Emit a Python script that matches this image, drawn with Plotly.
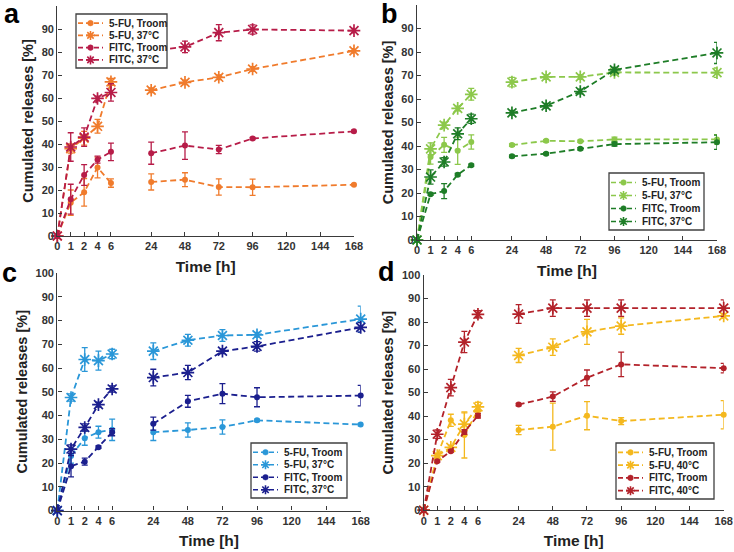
import plotly.graph_objects as go

W, H = 734, 552

# ---------------- data ----------------
times = [0, 1, 2, 4, 6, 24, 48, 72, 96, 168]
tick_hours = [0, 1, 2, 4, 6, 24, 48, 72, 96, 120, 144, 168]
yticks = list(range(0, 101, 10))

# panel a
a_fu_rt = [0, 14.5, 19.0, 29.8, 23.0, 23.5, 24.5, 21.3, 21.2, 22.3]
a_fu_rt_err = [None, 5.5, 6, 4.5, 1.8, 3.5, 3, 3.5, 3.5, 0.4]
a_fu_hot = [0, 38.0, 42.5, 47.7, 67.0, 63.4, 66.8, 69.0, 72.6, 80.5]
a_fu_hot_err = [None, 2, 3, 3, 1.5, 1, 1, 1, 1, 1]
a_fitc_rt = [0, 16.0, 26.5, 33.2, 36.6, 36.0, 39.3, 37.6, 42.4, 45.5]
a_fitc_rt_err = [None, 6.5, 4.5, 1.5, 3.8, 4.8, 6, 1.8, 0.5, 0.5]
a_fitc_hot = [0, 38.7, 43.0, 59.8, 62.4, 80.5, 82.2, 88.4, 89.8, 89.3]
a_fitc_hot_err = [None, 6.2, 4, 1, 3.8, 1, 2.5, 3.5, 2, 1]

# panel b
b_fu_rt = [0, 35.3, 40.5, 38.0, 41.7, 40.4, 42.2, 42.0, 42.8, 42.8]
b_fu_rt_err = [None, 3, 3.2, 5.8, 3, 0.5, 0.5, 0.5, 1, 2]
b_fu_hot = [0, 38.8, 48.9, 56.0, 62.0, 67.2, 69.4, 69.4, 71.3, 71.2]
b_fu_hot_err = [None, 2.5, 1.2, 1, 2.5, 2, 1, 1, 1, 2]
b_fitc_rt = [0, 19.5, 20.8, 27.8, 31.8, 35.6, 36.7, 38.8, 40.8, 41.6]
b_fitc_rt_err = [None, 0.5, 3.2, 0.5, 0.5, 0.5, 0.5, 0.5, 0.8, 3]
b_fitc_hot = [0, 26.8, 33.2, 45.2, 51.6, 54.1, 57.1, 63.2, 72.4, 79.6]
b_fitc_hot_err = [None, 3, 1.8, 2.5, 2, 1, 1, 1, 1, 4.5]

# panel c
c_fu_rt = [0, 23.0, 30.5, 33.0, 34.0, 33.0, 33.9, 35.2, 38.0, 36.2]
c_fu_rt_err = [None, 3, 3, 2.5, 4.5, 3.5, 3, 3, 0.5, 0.5]
c_fu_hot = [0, 47.6, 63.6, 63.1, 65.9, 67.1, 71.7, 73.7, 74.0, 80.6]
c_fu_hot_err = [None, 1.5, 5, 4, 2, 3.5, 2.5, 2.5, 1, 5.5]
c_fitc_rt = [0, 18.7, 20.6, 26.7, 33.0, 36.6, 46.0, 49.2, 47.7, 48.4]
c_fitc_rt_err = [None, 4.5, 1.5, 0.5, 1.5, 2.7, 2.5, 4.2, 4, 4.3]
c_fitc_hot = [0, 25.9, 35.0, 44.6, 51.2, 56.0, 58.1, 67.1, 69.1, 77.1]
c_fitc_hot_err = [None, 1.8, 1.5, 1, 1.3, 3.5, 3, 1, 2, 2]

# panel d
d_fu_rt = [0, 23.2, 38.2, 32.0, 42.5, 34.1, 35.5, 40.2, 37.9, 40.6]
d_fu_rt_err = [None, 1, 2.6, 9.8, 2, 2, 10, 6, 1.5, 6]
d_fu_hot = [0, 23.2, 26.7, 36.6, 43.9, 65.8, 69.3, 75.8, 78.3, 82.6]
d_fu_hot_err = [None, 1, 1, 4.8, 2, 3, 3.5, 5.3, 3.5, 1]
d_fitc_rt = [0, 20.8, 25.1, 33.3, 40.2, 44.9, 48.3, 56.3, 62.0, 60.4]
d_fitc_rt_err = [None, 0.5, 0.5, 1, 1, 0.5, 2, 3.3, 5.2, 2]
d_fitc_hot = [0, 32.3, 52.1, 71.5, 83.3, 83.4, 85.9, 85.9, 85.9, 85.9]
d_fitc_hot_err = [None, 1.8, 3.5, 4.5, 1.5, 4, 3.5, 3.5, 3.5, 3.5]

# ---------------- styling ----------------
FONT = "Liberation Sans, Arial, sans-serif"
AXC = "#3a3a3a"
TXT = "#333333"

# broken time axis: first hours equally spaced, then 24 h steps compressed
EARLY = [0, 1, 2, 4, 6]


def hour_to_pos(t):
    if t in EARLY:
        return EARLY.index(t)
    return 7 + (t - 24) / 24 * 2.52


def with_gap(vals):
    # break the line between 6 h and 24 h
    return list(vals[:5]) + [None] + list(vals[5:])


xpos = with_gap([hour_to_pos(t) for t in times])

panels = [
    dict(letter="a", xpx=(57.3, 354.0), ypx=(6.0, 236.0),
         c_fu="#F07B2C", c_fitc="#B71C48", hot="37°C",
         series=[(a_fu_rt, a_fu_rt_err), (a_fu_hot, a_fu_hot_err),
                 (a_fitc_rt, a_fitc_rt_err), (a_fitc_hot, a_fitc_hot_err)],
         leg=(76, 14, 167, 68), letpos=(12, 14.5)),
    dict(letter="b", xpx=(417.0, 717.0), ypx=(5.0, 240.0),
         c_fu="#8CC84B", c_fitc="#1E7D27", hot="37°C",
         series=[(b_fu_rt, b_fu_rt_err), (b_fu_hot, b_fu_hot_err),
                 (b_fitc_rt, b_fitc_rt_err), (b_fitc_hot, b_fitc_hot_err)],
         leg=(609, 173, 704, 230), letpos=(389, 14.5)),
    dict(letter="c", xpx=(57.3, 360.7), ypx=(273.0, 510.6),
         c_fu="#2A97D8", c_fitc="#1B1F8E", hot="37°C",
         series=[(c_fu_rt, c_fu_rt_err), (c_fu_hot, c_fu_hot_err),
                 (c_fitc_rt, c_fitc_rt_err), (c_fitc_hot, c_fitc_hot_err)],
         leg=(251, 443, 347, 498), letpos=(9, 273)),
    dict(letter="d", xpx=(423.7, 723.7), ypx=(275.0, 510.2),
         c_fu="#F4B81E", c_fitc="#B3222A", hot="40°C",
         series=[(d_fu_rt, d_fu_rt_err), (d_fu_hot, d_fu_hot_err),
                 (d_fitc_rt, d_fitc_rt_err), (d_fitc_hot, d_fitc_hot_err)],
         leg=(616, 443, 714, 499), letpos=(387, 272)),
]


def fx(px):
    return px / W


def fy(py):
    return 1 - py / H


fig = go.Figure()
shapes = []
annotations = []
layout_axes = {}

for i, p in enumerate(panels):
    n = "" if i == 0 else str(i + 1)
    xa, ya = "x" + n, "y" + n
    labels = ["5-FU, Troom", "5-FU, " + p["hot"], "FITC, Troom", "FITC, " + p["hot"]]
    colors = [p["c_fu"], p["c_fu"], p["c_fitc"], p["c_fitc"]]
    hot = [False, True, False, True]
    for (vals, errs), lab, col, h in zip(p["series"], labels, colors, hot):
        marker = (dict(symbol="asterisk-open", size=10.5, color=col,
                       line=dict(color=col, width=1.7)) if h else
                  dict(symbol="circle", size=6, color=col, line=dict(width=0)))
        fig.add_trace(go.Scatter(
            x=xpos, y=with_gap(vals), xaxis=xa, yaxis=ya, name=lab,
            mode="lines+markers", connectgaps=False, cliponaxis=False,
            line=dict(color=col, width=1.8, dash="6px,3.5px"),
            marker=marker,
            error_y=dict(type="data", array=with_gap(errs), visible=True,
                         color=col, thickness=1.3, width=3),
            showlegend=False))

    xd = [fx(p["xpx"][0]), fx(p["xpx"][1])]
    yd = [fy(p["ypx"][1]), fy(p["ypx"][0])]
    common = dict(showgrid=False, zeroline=False, showline=True, linecolor=AXC,
                  linewidth=1.4, ticks="inside", ticklen=4, tickwidth=1.2,
                  tickcolor=AXC, tickfont=dict(family=FONT, size=11, color=TXT,
                                               weight="bold"))
    layout_axes["xaxis" + n] = dict(
        common, domain=xd, anchor=ya, range=[0, hour_to_pos(168)],
        tickvals=[hour_to_pos(t) for t in tick_hours],
        ticktext=[str(t) for t in tick_hours],
        title=dict(text="<b>Time [h]</b>", standoff=9,
                   font=dict(family=FONT, size=15.5, color="#222")))
    layout_axes["yaxis" + n] = dict(
        common, domain=yd, anchor=xa, range=[0, 100], tickvals=yticks,
        title=dict(text="<b>Cumulated releases [%]</b>", standoff=4,
                   font=dict(family=FONT, size=14.5, color="#222")))

    # panel letter
    annotations.append(dict(text="<b>%s</b>" % p["letter"], xref="paper", yref="paper",
                            x=fx(p["letpos"][0]), y=fy(p["letpos"][1]),
                            xanchor="center", yanchor="middle", showarrow=False,
                            font=dict(family=FONT, size=27, color="black")))

    # legend box
    l, t, r, b = p["leg"]
    shapes.append(dict(type="rect", xref="paper", yref="paper", x0=fx(l), x1=fx(r),
                       y0=fy(b), y1=fy(t), fillcolor="white",
                       line=dict(color="#404040", width=1.3), layer="above"))
    step = (b - t - 5) / 4
    for k, (lab, col, h) in enumerate(zip(labels, colors, hot)):
        yc = t + 3 + step * (k + 0.5)
        shapes.append(dict(type="line", xref="paper", yref="paper",
                           x0=fx(l + 2), x1=fx(l + 27), y0=fy(yc), y1=fy(yc),
                           line=dict(color=col, width=1.6, dash="5px,3px"), layer="above"))
        if h:
            r1, r2 = 4.5, 3.2
            path = ("M%s,0 L%s,0 M0,%s L0,%s M%s,%s L%s,%s M%s,%s L%s,%s" %
                    (-r1, r1, -r1, r1, -r2, -r2, r2, r2, -r2, r2, r2, -r2))
            shapes.append(dict(type="path", xref="paper", yref="paper",
                               xsizemode="pixel", ysizemode="pixel",
                               xanchor=fx(l + 14.5), yanchor=fy(yc), path=path,
                               line=dict(color=col, width=1.6), layer="above"))
        else:
            shapes.append(dict(type="circle", xref="paper", yref="paper",
                               xsizemode="pixel", ysizemode="pixel",
                               xanchor=fx(l + 14.5), yanchor=fy(yc),
                               x0=-2.8, x1=2.8, y0=-2.8, y1=2.8,
                               fillcolor=col, line=dict(color=col, width=0.5),
                               layer="above"))
        annotations.append(dict(text="<b>%s</b>" % lab, xref="paper", yref="paper",
                                x=fx(l + 31), y=fy(yc), xanchor="left", yanchor="middle",
                                showarrow=False,
                                font=dict(family=FONT, size=10, color="#222")))

fig.update_layout(
    width=W, height=H, margin=dict(l=0, r=0, t=0, b=0, autoexpand=False),
    paper_bgcolor="white", plot_bgcolor="white", showlegend=False,
    shapes=shapes, annotations=annotations, font=dict(family=FONT),
    **layout_axes)

fig.write_html("out.html")
